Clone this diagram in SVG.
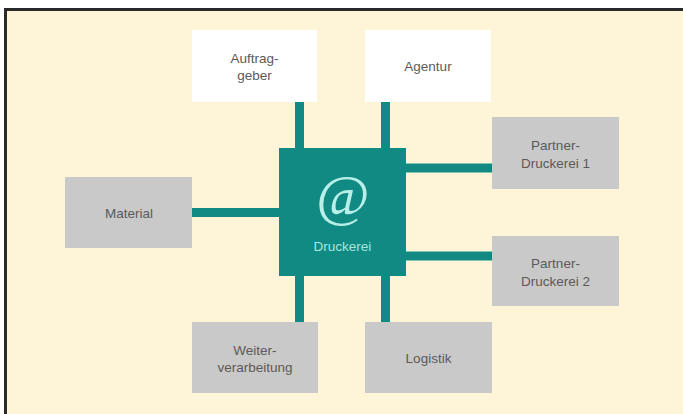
<svg xmlns="http://www.w3.org/2000/svg" width="683" height="414" viewBox="0 0 683 414">
<style>
.box{stroke:none}
.gray{fill:#c9c9c9}
.white{fill:#ffffff}
.lbl{font-family:"Liberation Sans",Arial,sans-serif;font-size:13.5px;fill:#5a5a5a;text-anchor:middle}
.conn{stroke:#118a83;stroke-width:9;fill:none}
</style>
<rect x="0" y="0" width="683" height="414" fill="#ffffff"/>
<rect x="5.5" y="9.5" width="690" height="420" fill="#fef4d8" stroke="#2a2a2a" stroke-width="3"/>
<g id="connectors">
<line class="conn" x1="299.5" y1="102" x2="299.5" y2="149"/>
<line class="conn" x1="385.5" y1="102" x2="385.5" y2="149"/>
<line class="conn" x1="299.5" y1="275" x2="299.5" y2="323"/>
<line class="conn" x1="385.5" y1="275" x2="385.5" y2="323"/>
<line class="conn" x1="191" y1="212.5" x2="280" y2="212.5"/>
<line class="conn" x1="405" y1="168" x2="493" y2="168"/>
<line class="conn" x1="405" y1="256" x2="493" y2="256"/>
</g>
<g id="auftraggeber">
<rect class="box white" x="192" y="30" width="125" height="72"/>
<text class="lbl" x="254.5" y="63">Auftrag-</text>
<text class="lbl" x="254.5" y="80">geber</text>
</g>
<g id="agentur">
<rect class="box white" x="365" y="30" width="126" height="72"/>
<text class="lbl" x="428" y="71">Agentur</text>
</g>
<g id="partner1">
<rect class="box gray" x="492" y="117" width="127" height="72"/>
<text class="lbl" x="555.5" y="150">Partner-</text>
<text class="lbl" x="555.5" y="168">Druckerei 1</text>
</g>
<g id="partner2">
<rect class="box gray" x="492" y="236" width="127" height="70"/>
<text class="lbl" x="555.5" y="268">Partner-</text>
<text class="lbl" x="555.5" y="286">Druckerei 2</text>
</g>
<g id="material">
<rect class="box gray" x="65" y="177" width="127" height="71"/>
<text class="lbl" x="129" y="217.5">Material</text>
</g>
<g id="weiterverarbeitung">
<rect class="box gray" x="192" y="322" width="126" height="71"/>
<text class="lbl" x="255" y="355">Weiter-</text>
<text class="lbl" x="255" y="372">verarbeitung</text>
</g>
<g id="logistik">
<rect class="box gray" x="365" y="322" width="127" height="71"/>
<text class="lbl" x="428.5" y="363">Logistik</text>
</g>
<g id="druckerei">
<rect class="box" x="279" y="148" width="127" height="128" fill="#118a83"/>
<text x="343" y="215" font-family="'Liberation Serif','Times New Roman',serif" font-size="58" fill="#b8efe8" text-anchor="middle">@</text>
<text x="342.5" y="251" font-family="'Liberation Sans',Arial,sans-serif" font-size="13.5" fill="#a6e6de" text-anchor="middle">Druckerei</text>
</g>
</svg>
